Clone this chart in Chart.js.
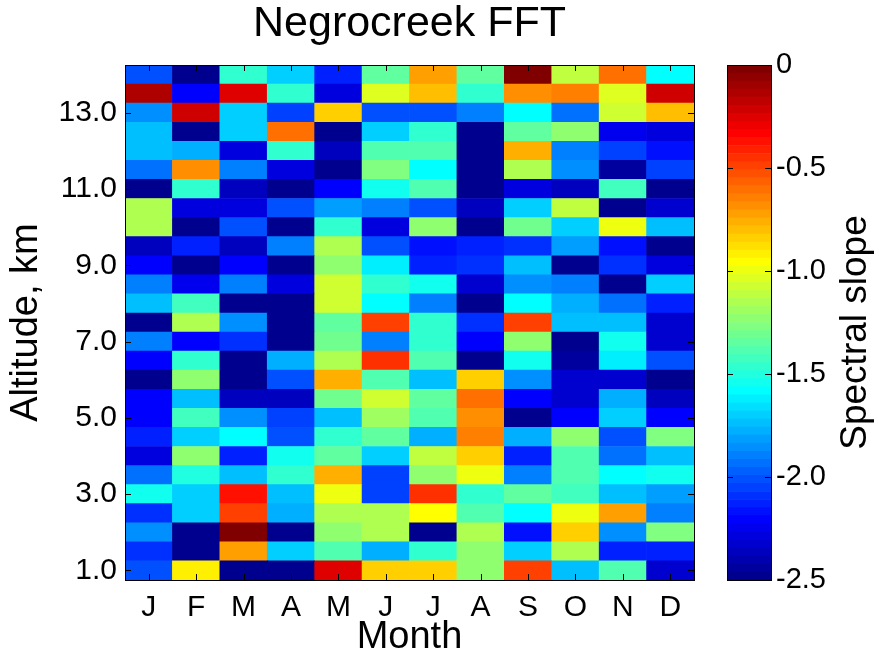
<!DOCTYPE html>
<html>
<head>
<meta charset="utf-8">
<title>Negrocreek FFT</title>
<script src="https://cdn.jsdelivr.net/npm/chart.js@4.4.1/dist/chart.umd.min.js"></script>
<style>
  html, body { margin: 0; padding: 0; background: #fff; }
  #wrap { position: relative; width: 879px; height: 657px; }
  #wrap canvas { position: absolute; top: 0; }
  #heatmap { left: 0; }
  #colorbar { left: 690px; }
</style>
</head>
<body>
<div id="wrap">
  <canvas id="heatmap" width="879" height="657"></canvas>
  <canvas id="colorbar" width="189" height="657"></canvas>
</div>
<script>
(function() {
    'use strict';

    // ========== DATA ==========
    const months = ['J', 'F', 'M', 'A', 'M', 'J', 'J', 'A', 'S', 'O', 'N', 'D'];
    const altitudes = [1.0, 1.5, 2.0, 2.5, 3.0, 3.5, 4.0, 4.5, 5.0, 5.5, 6.0, 6.5, 7.0, 7.5,
                       8.0, 8.5, 9.0, 9.5, 10.0, 10.5, 11.0, 11.5, 12.0, 12.5, 13.0, 13.5, 14.0];
    const altTicks = [1, 3, 5, 7, 9, 11, 13];
    const slopeTicks = [0, -0.5, -1.0, -1.5, -2.0, -2.5];
    const slopeMin = -2.5;
    const slopeMax = 0;

    // spectral slope per month, from 1.0 km up to 14.0 km
    const jan = [-2.0, -2.1, -1.85, -2.1, -1.56, -1.95, -2.3, -2.12, -2.19, -2.19, -2.48, -2.22, -1.88, -2.5,
                 -1.72, -1.88, -2.19, -2.38, -1.15, -1.15, -2.5, -1.95, -1.72, -1.72, -1.85, -0.15, -2.0];
    const feb = [-0.9, -2.5, -2.5, -1.71, -1.71, -1.5, -1.22, -1.7, -1.42, -1.72, -1.25, -1.48, -2.19, -1.15,
                 -1.42, -2.25, -2.47, -2.12, -2.5, -2.3, -1.48, -0.68, -1.78, -2.5, -0.22, -2.2, -2.5];
    const mar = [-2.5, -0.72, -0.02, -0.5, -0.39, -1.72, -2.12, -1.6, -1.85, -2.38, -2.5, -2.5, -2.1, -1.87,
                 -2.5, -1.9, -2.19, -2.38, -2.03, -2.28, -2.38, -1.9, -2.3, -1.7, -1.7, -0.25, -1.47];
    const apr = [-2.5, -1.7, -2.5, -1.78, -1.75, -1.47, -1.54, -2.03, -2.06, -2.35, -2.03, -1.78, -2.5, -2.5,
                 -2.5, -2.3, -2.48, -1.9, -2.5, -2.0, -2.48, -2.3, -1.45, -0.6, -2.05, -1.47, -1.7];
    const may = [-0.25, -1.37, -1.25, -1.15, -1.0, -0.75, -1.33, -1.45, -1.72, -1.3, -0.75, -1.15, -1.3, -1.33,
                 -1.08, -1.08, -1.25, -1.15, -1.48, -1.82, -2.19, -2.47, -2.38, -2.5, -0.85, -2.3, -2.12];
    const jun = [-0.85, -1.78, -1.15, -1.16, -2.07, -2.06, -1.7, -1.35, -1.2, -1.08, -1.37, -0.43, -1.9, -0.5,
                 -1.6, -1.45, -1.62, -2.03, -2.3, -1.88, -1.53, -1.27, -1.37, -1.7, -2.0, -1.05, -1.35];
    const jul = [-0.85, -1.45, -2.47, -0.94, -0.43, -1.22, -1.12, -1.76, -1.37, -1.33, -1.72, -1.4, -1.45, -1.45,
                 -1.9, -1.53, -2.12, -2.15, -1.25, -2.0, -1.37, -1.6, -1.37, -1.48, -2.0, -0.8, -0.72];
    const aug = [-1.25, -1.25, -1.16, -1.4, -1.48, -0.98, -0.83, -0.64, -0.68, -0.6, -0.83, -2.5, -2.19, -2.1,
                 -2.5, -2.32, -2.1, -2.12, -2.5, -2.38, -2.5, -2.5, -2.5, -2.5, -1.9, -1.45, -1.35];
    const sep = [-0.48, -1.7, -2.15, -1.58, -1.33, -1.9, -2.12, -1.78, -2.47, -2.19, -1.85, -1.56, -1.25, -0.47,
                 -1.58, -1.85, -1.72, -2.1, -1.3, -1.7, -2.28, -1.15, -0.78, -1.34, -1.6, -0.68, -0.02];
    const oct = [-1.75, -1.15, -0.83, -0.98, -1.42, -1.38, -1.37, -1.25, -2.19, -2.32, -2.32, -2.45, -2.5, -1.74,
                 -1.78, -1.9, -2.5, -1.82, -1.7, -1.12, -2.38, -1.85, -1.88, -1.25, -1.95, -0.64, -1.12];
    const nov = [-1.37, -2.12, -1.85, -0.72, -1.75, -1.6, -1.95, -2.0, -1.7, -1.76, -2.32, -1.63, -1.56, -1.74,
                 -1.95, -2.5, -2.1, -2.15, -1.0, -2.5, -1.42, -2.45, -2.05, -2.25, -1.08, -1.05, -0.6];
    const dec = [-2.32, -2.13, -1.28, -1.9, -1.8, -1.56, -1.75, -1.27, -2.19, -2.35, -2.47, -2.03, -2.32, -2.32,
                 -2.12, -1.68, -2.3, -2.48, -1.75, -2.32, -2.48, -2.05, -2.15, -2.3, -0.8, -0.22, -1.6];

    const slopeByMonth = [jan, feb, mar, apr, may, jun, jul, aug, sep, oct, nov, dec];
    const cellHalf = 0.25; // half of the 0.5 km altitude bin

    // ========== JET COLORMAP (64 levels) ==========
    const JET_N = 64;
    function jetRamp(i) {
        if (i < 1 || i > 47) return 0;
        if (i <= 16) return i / 16;
        if (i <= 31) return 1;
        return (48 - i) / 16;
    }
    function jetColor(v) {
        let k = Math.floor((v - slopeMin) / (slopeMax - slopeMin) * JET_N);
        k = Math.max(0, Math.min(JET_N - 1, k)) + 1;
        const r = jetRamp(k - 24), g = jetRamp(k - 8), b = jetRamp(k + 8);
        return 'rgb(' + Math.round(r * 255) + ',' + Math.round(g * 255) + ',' + Math.round(b * 255) + ')';
    }

    Chart.defaults.font.family = "'Liberation Sans', Arial, sans-serif";
    Chart.defaults.color = '#000';

    const TICK = 6;

    // box around the plot with inward ticks on all four sides
    const heatmapFrame = {
        id: 'heatmapFrame',
        afterDatasetsDraw(chart) {
            const { ctx, chartArea: a, scales } = chart;
            ctx.save();
            ctx.strokeStyle = '#000';
            ctx.lineWidth = 1;
            ctx.beginPath();
            months.forEach((m, i) => {
                const x = Math.round(scales.x.getPixelForValue(i)) + 0.5;
                ctx.moveTo(x, a.bottom); ctx.lineTo(x, a.bottom - TICK);
                ctx.moveTo(x, a.top); ctx.lineTo(x, a.top + TICK);
            });
            altTicks.forEach(v => {
                const y = Math.round(scales.y.getPixelForValue(v)) + 0.5;
                ctx.moveTo(a.left, y); ctx.lineTo(a.left + TICK, y);
                ctx.moveTo(a.right, y); ctx.lineTo(a.right - TICK, y);
            });
            ctx.stroke();
            ctx.strokeRect(Math.round(a.left) + 0.5, Math.round(a.top) + 0.5,
                           Math.round(a.width), Math.round(a.height));
            ctx.restore();
        }
    };

    const colorbarFrame = {
        id: 'colorbarFrame',
        afterDatasetsDraw(chart) {
            const { ctx, chartArea: a, scales } = chart;
            ctx.save();
            ctx.strokeStyle = '#000';
            ctx.lineWidth = 1;
            ctx.beginPath();
            slopeTicks.forEach(v => {
                const y = Math.round(scales.y.getPixelForValue(v)) + 0.5;
                ctx.moveTo(a.left, y); ctx.lineTo(a.left + TICK, y);
                ctx.moveTo(a.right, y); ctx.lineTo(a.right - TICK, y);
            });
            ctx.stroke();
            ctx.strokeRect(Math.round(a.left) + 0.5, Math.round(a.top) + 0.5,
                           Math.round(a.width), Math.round(a.height));

            // colorbar label, reading bottom to top
            ctx.fillStyle = '#000';
            ctx.font = "37px 'Liberation Sans', Arial, sans-serif";
            ctx.textAlign = 'center';
            ctx.textBaseline = 'middle';
            ctx.translate(a.right + 85, (a.top + a.bottom) / 2 + 10);
            ctx.rotate(-Math.PI / 2);
            ctx.fillText('Spectral slope', 0, 0);
            ctx.restore();
        }
    };

    // ========== HEATMAP ==========
    function initHeatmap() {
        const rowDatasets = altitudes.map((alt, r) => ({
            data: months.map(() => [alt - cellHalf, alt + cellHalf]),
            backgroundColor: slopeByMonth.map(col => jetColor(col[r])),
            grouped: false,
            barPercentage: 1,
            categoryPercentage: 1,
            borderWidth: 0
        }));

        new Chart(document.getElementById('heatmap'), {
            type: 'bar',
            data: { labels: months, datasets: rowDatasets },
            options: {
                responsive: false,
                animation: false,
                events: [],
                layout: { padding: { top: 0, left: 0, right: 185, bottom: 0 } },
                plugins: {
                    legend: { display: false },
                    tooltip: { enabled: false },
                    title: {
                        display: true,
                        text: 'Negrocreek FFT',
                        fullSize: false,
                        color: '#000',
                        font: { size: 43, weight: 'normal', lineHeight: 1 },
                        padding: { top: 3, bottom: 19 }
                    }
                },
                scales: {
                    x: {
                        grid: { display: false, drawTicks: false },
                        border: { display: false },
                        ticks: { font: { size: 30 }, padding: 10, autoSkip: false, maxRotation: 0 },
                        title: {
                            display: true,
                            text: 'Month',
                            font: { size: 38, lineHeight: 1 },
                            padding: { top: 0, bottom: 0 }
                        },
                        afterFit: (s) => { s.height = 77; }
                    },
                    y: {
                        min: 0.75,
                        max: 14.25,
                        grid: { display: false, drawTicks: false },
                        border: { display: false },
                        afterBuildTicks: (s) => { s.ticks = altTicks.map(v => ({ value: v })); },
                        ticks: { font: { size: 30 }, padding: 8, callback: (v) => Number(v).toFixed(1) },
                        title: {
                            display: true,
                            text: 'Altitude, km',
                            font: { size: 38, lineHeight: 1 },
                            padding: { top: 8, bottom: 0 }
                        },
                        afterFit: (s) => { s.width = 125; }
                    }
                }
            },
            plugins: [heatmapFrame]
        });
    }

    // ========== COLORBAR ==========
    function initColorbar() {
        const step = (slopeMax - slopeMin) / JET_N;
        const bands = [];
        for (let k = 0; k < JET_N; k++) {
            const lo = slopeMin + k * step;
            bands.push({
                data: [[lo, lo + step]],
                backgroundColor: jetColor(lo + step / 2),
                grouped: false,
                barPercentage: 1,
                categoryPercentage: 1,
                borderWidth: 0
            });
        }

        new Chart(document.getElementById('colorbar'), {
            type: 'bar',
            data: { labels: [''], datasets: bands },
            options: {
                responsive: false,
                animation: false,
                events: [],
                layout: { padding: { top: 65, left: 37, right: 0, bottom: 77 } },
                plugins: { legend: { display: false }, tooltip: { enabled: false } },
                scales: {
                    x: { display: false },
                    y: {
                        position: 'right',
                        min: slopeMin,
                        max: slopeMax,
                        grid: { display: false, drawTicks: false },
                        border: { display: false },
                        afterBuildTicks: (s) => { s.ticks = slopeTicks.map(v => ({ value: v })); },
                        ticks: {
                            font: { size: 29 },
                            padding: 5,
                            callback: (v) => (v === 0 ? '0' : Number(v).toFixed(1))
                        },
                        afterFit: (s) => { s.width = 108; }
                    }
                }
            },
            plugins: [colorbarFrame]
        });
    }

    initHeatmap();
    initColorbar();
})();
</script>
</body>
</html>
